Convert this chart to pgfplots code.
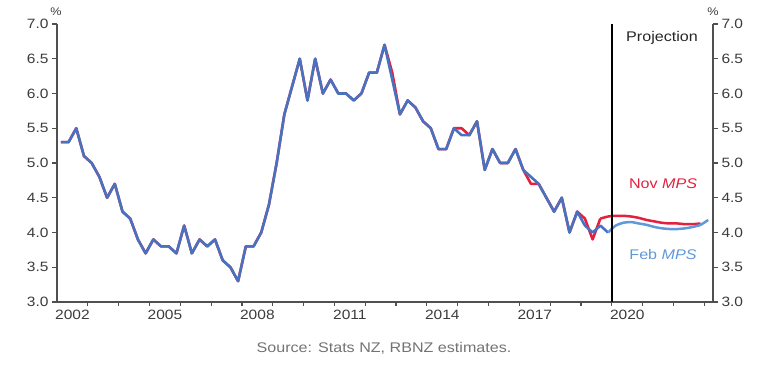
\documentclass[border=0pt]{standalone}
\usepackage{fontspec}
\setmainfont{Liberation Sans}
\usepackage{graphicx}
\usepackage{pgfplots}
\usepackage{pgfplotstable}
\pgfplotsset{compat=1.18}
\definecolor{histblue}{RGB}{72,114,192}
\definecolor{febblue}{RGB}{96,152,218}
\definecolor{novred}{RGB}{228,32,62}
\definecolor{axgray}{RGB}{80,80,80}
\definecolor{txtgray}{RGB}{60,60,60}
\definecolor{srcgray}{RGB}{115,115,115}
\newcommand{\sx}[1]{\scalebox{1.15}[1]{#1}}

\pgfplotstableread{
x y
2002.125 5.3
2002.375 5.3
2002.625 5.5
2002.875 5.1
2003.125 5.0
2003.375 4.8
2003.625 4.5
2003.875 4.7
2004.125 4.3
2004.375 4.2
2004.625 3.9
2004.875 3.7
2005.125 3.9
2005.375 3.8
2005.625 3.8
2005.875 3.7
2006.125 4.1
2006.375 3.7
2006.625 3.9
2006.875 3.8
2007.125 3.9
2007.375 3.6
2007.625 3.5
2007.875 3.3
2008.125 3.8
2008.375 3.8
2008.625 4.0
2008.875 4.4
2009.125 5.0
2009.375 5.7
2009.625 6.1
2009.875 6.5
2010.125 5.9
2010.375 6.5
2010.625 6.0
2010.875 6.2
2011.125 6.0
2011.375 6.0
2011.625 5.9
2011.875 6.0
2012.125 6.3
2012.375 6.3
2012.625 6.7
2012.875 6.2
2013.125 5.7
2013.375 5.9
2013.625 5.8
2013.875 5.6
2014.125 5.5
2014.375 5.2
2014.625 5.2
2014.875 5.5
2015.125 5.4
2015.375 5.4
2015.625 5.6
2015.875 4.9
2016.125 5.2
2016.375 5.0
2016.625 5.0
2016.875 5.2
2017.125 4.9
2017.375 4.8
2017.625 4.7
2017.875 4.5
2018.125 4.3
2018.375 4.5
2018.625 4.0
2018.875 4.3
2019.125 4.1
2019.375 4.0
2019.625 4.1
2019.875 4.0
}\febhist

\pgfplotstableread{
x y
2019.875 4.00
2020.125 4.10
2020.375 4.14
2020.625 4.15
2020.875 4.13
2021.125 4.11
2021.375 4.08
2021.625 4.06
2021.875 4.05
2022.125 4.05
2022.375 4.06
2022.625 4.08
2022.875 4.11
2023.125 4.18
}\febproj

\pgfplotstableread{
x y
2002.125 5.3
2002.375 5.3
2002.625 5.5
2002.875 5.1
2003.125 5.0
2003.375 4.8
2003.625 4.5
2003.875 4.7
2004.125 4.3
2004.375 4.2
2004.625 3.9
2004.875 3.7
2005.125 3.9
2005.375 3.8
2005.625 3.8
2005.875 3.7
2006.125 4.1
2006.375 3.7
2006.625 3.9
2006.875 3.8
2007.125 3.9
2007.375 3.6
2007.625 3.5
2007.875 3.3
2008.125 3.8
2008.375 3.8
2008.625 4.0
2008.875 4.4
2009.125 5.0
2009.375 5.7
2009.625 6.1
2009.875 6.5
2010.125 5.9
2010.375 6.5
2010.625 6.0
2010.875 6.2
2011.125 6.0
2011.375 6.0
2011.625 5.9
2011.875 6.0
2012.125 6.3
2012.375 6.3
2012.625 6.7
2012.875 6.3
2013.125 5.7
2013.375 5.9
2013.625 5.8
2013.875 5.6
2014.125 5.5
2014.375 5.2
2014.625 5.2
2014.875 5.5
2015.125 5.5
2015.375 5.4
2015.625 5.6
2015.875 4.9
2016.125 5.2
2016.375 5.0
2016.625 5.0
2016.875 5.2
2017.125 4.9
2017.375 4.7
2017.625 4.7
2017.875 4.5
2018.125 4.3
2018.375 4.5
2018.625 4.0
2018.875 4.3
2019.125 4.2
2019.375 3.9
2019.625 4.2
}\novhist

\pgfplotstableread{
x y
2019.625 4.20
2019.875 4.23
2020.125 4.24
2020.375 4.24
2020.625 4.23
2020.875 4.21
2021.125 4.18
2021.375 4.16
2021.625 4.14
2021.875 4.13
2022.125 4.13
2022.375 4.12
2022.625 4.12
2022.875 4.13
}\novproj

\begin{document}
\begin{tikzpicture}
\pgfplotsset{every axis/.append style={
  at={(0pt,0pt)}, anchor=south west,
  scale only axis, width=656pt, height=278pt,
  xmin=2002, xmax=2023.28, ymin=3, ymax=7,
  axis line style={axgray, line width=1.7pt, -},
  tick align=outside,
  ytick={3,3.5,4,4.5,5,5.5,6,6.5,7},
  yticklabels={\sx{3.0},\sx{3.5},\sx{4.0},\sx{4.5},\sx{5.0},\sx{5.5},\sx{6.0},\sx{6.5},\sx{7.0}},
  y tick style={axgray, line width=1.2pt},
  major tick length=5pt,
  tick label style={font=\fontsize{13.5}{15}\selectfont, text=txtgray},
}}
\begin{axis}[
  axis x line*=bottom, axis y line*=left,
  xtick={2002.5,2005.5,2008.5,2011.5,2014.5,2017.5,2020.5},
  xticklabels={\sx{2002},\sx{2005},\sx{2008},\sx{2011},\sx{2014},\sx{2017},\sx{2020}},
  minor xtick={2003,...,2023},
  x tick style={draw=none},
  minor x tick style={draw=axgray, line width=1.2pt},
  minor tick length=4pt,
  clip=false,
]
\addplot[novred, line width=2.6pt, line join=round] table[x=x,y=y]{\novhist};
\addplot[novred, line width=2.5pt, line join=round, smooth, tension=0.4] table[x=x,y=y]{\novproj};
\addplot[histblue, line width=2.6pt, line join=round] table[x=x,y=y]{\febhist};
\addplot[febblue, line width=2.5pt, line join=round, smooth, tension=0.4] table[x=x,y=y]{\febproj};
\addplot[black, line width=1.3pt] coordinates {(2020.0,3) (2020.0,7)};
\end{axis}
\begin{axis}[
  axis x line=none, axis y line*=right,
]
\addplot[draw=none] coordinates {(2010,5)};
\end{axis}
\node[font=\fontsize{11}{13}\selectfont, text=txtgray] at (-1pt,290pt) {\sx{\%}};
\node[font=\fontsize{11}{13}\selectfont, text=txtgray] at (656pt,290pt) {\sx{\%}};
\node[font=\fontsize{14}{16}\selectfont, text=black!85] at (605pt,264pt) {\sx{Projection}};
\node[font=\fontsize{14}{16}\selectfont, text=novred] at (606pt,118pt) {\sx{Nov \textit{MPS}}};
\node[font=\fontsize{14}{16}\selectfont, text=febblue] at (606pt,48pt) {\sx{Feb \textit{MPS}}};
\node[font=\fontsize{14}{16}\selectfont, text=srcgray] at (327pt,-46pt) {\sx{Source: Stats NZ, RBNZ estimates.}};
\pgfresetboundingbox
\path[use as bounding box] (-57pt,-69pt) rectangle (724pt,302pt);
\end{tikzpicture}
\end{document}
